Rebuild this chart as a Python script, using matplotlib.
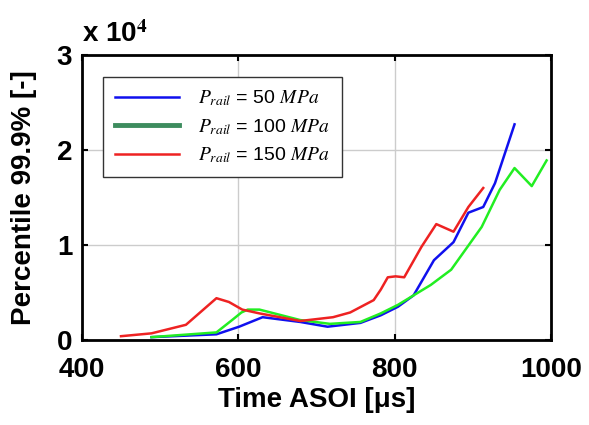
import matplotlib
matplotlib.use('Agg')
import matplotlib.pyplot as plt
from matplotlib.lines import Line2D

plt.rcParams['font.family'] = ['Liberation Sans', 'DejaVu Sans']
plt.rcParams['mathtext.fontset'] = 'stix'

# values (time in us, percentile in absolute units)
t_50 = [489, 572, 601, 631, 679, 714, 756, 782, 804, 824, 850, 875, 894, 913, 928, 953]
p_50 = [300, 600, 1400, 2400, 1900, 1400, 1800, 2600, 3500, 4700, 8400, 10300, 13400, 14000, 16500, 22700]

t_100 = [489, 572, 592, 604, 612, 627, 679, 717, 756, 782, 804, 846, 872, 885, 911, 934, 953, 975, 994]
p_100 = [300, 800, 2100, 2900, 3200, 3200, 2100, 1700, 1900, 2800, 3700, 5800, 7400, 8900, 11900, 15800, 18100, 16200, 18900]

t_150 = [450, 489, 533, 572, 588, 605, 627, 679, 721, 743, 773, 782, 791, 801, 812, 834, 853, 875, 894, 913]
p_150 = [400, 700, 1600, 4400, 4000, 3200, 2800, 2000, 2400, 2900, 4200, 5300, 6600, 6700, 6600, 9800, 12200, 11400, 14000, 16000]

x_ticks = [400, 600, 800, 1000]
y_ticks = [0, 10000, 20000, 30000]
y_labels = ['0', '1', '2', '3']
legend_labels = [r'$P_{rail}$ = 50 $MPa$', r'$P_{rail}$ = 100 $MPa$', r'$P_{rail}$ = 150 $MPa$']

fig = plt.figure(figsize=(5.89, 4.25), dpi=100)
ax = fig.add_axes([0.139, 0.2, 0.797, 0.6706])

ax.plot(t_50, p_50, color='#1010ee', lw=1.8)
ax.plot(t_100, p_100, color='#22ee22', lw=1.8)
ax.plot(t_150, p_150, color='#ee2222', lw=1.8)

ax.set_xlim(400, 1000)
ax.set_ylim(0, 30000)
ax.set_xticks(x_ticks)
ax.set_yticks(y_ticks)
ax.set_yticklabels(y_labels)
ax.grid(True, color='#cccccc', lw=1)
ax.tick_params(direction='in', length=4, width=1.5, top=True, right=True, labelsize=20)
ax.tick_params(axis='x', pad=12)
ax.tick_params(axis='y', pad=7)
for lab in ax.get_xticklabels() + ax.get_yticklabels():
    lab.set_fontweight('bold')
for s in ax.spines.values():
    s.set_linewidth(2)

ax.set_xlabel('Time ASOI [μs]', fontsize=20, fontweight='bold', labelpad=3)
ax.set_ylabel('Percentile 99.9% [-]', fontsize=20, fontweight='bold', labelpad=14)
fig.text(0.14, 0.9, r'x 10$^{\mathbf{4}}$', fontsize=20, fontweight='bold')

handles = [Line2D([], [], color='#1010ee', lw=1.8),
           Line2D([], [], color='#3d8c5e', lw=3.5),
           Line2D([], [], color='#ee2222', lw=1.8)]
leg = ax.legend(handles, legend_labels, loc='upper left', bbox_to_anchor=(0.045, 0.923),
                borderaxespad=0, fontsize=14, fancybox=False, edgecolor='#333333',
                framealpha=1, handlelength=3.3, borderpad=0.6, labelspacing=0.45,
                handletextpad=1.0)
leg.get_frame().set_linewidth(1)

fig.savefig('out.png', dpi=100)
